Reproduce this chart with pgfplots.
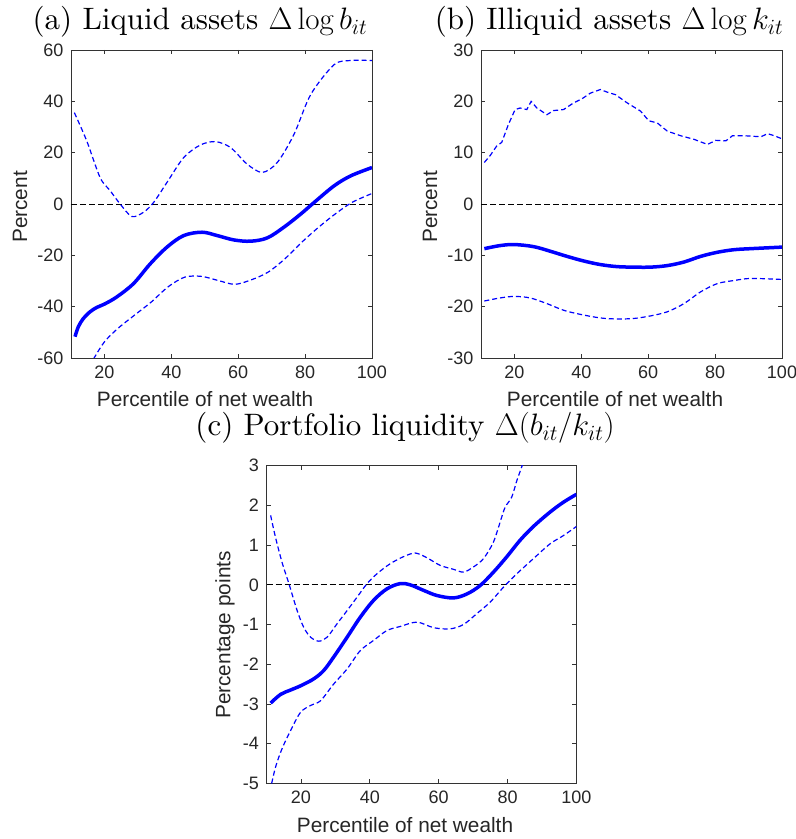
\RequirePackage{fix-cm}
\documentclass[border=0pt]{standalone}
\usepackage{fontspec}
\usepackage{pgfplots}
\pgfplotsset{compat=1.18}
\newfontfamily\arial{Liberation Sans}
\newfontfamily\lmten{lmroman10-regular}[Extension=.otf]

\pgfplotsset{
  panel/.style={
    scale only axis,
    anchor=south west,
    axis line style={black!80, line width=0.8pt},
    tick style={black!80, line width=0.8pt},
    tick align=inside,
    major tick length=4pt,
    xmin=10, xmax=100, xtick={20,40,...,100},
    ticklabel style={font=\arial\fontsize{18}{20}\selectfont, text=black!85},
    xticklabel style={yshift=-4pt},
    yticklabel style={xshift=-4pt},
    /pgf/number format/assume math mode=true,
  },
  est/.style={blue, line width=3.5pt, smooth, tension=0.55},
  band/.style={blue, line width=1.2pt, dash pattern=on 5pt off 3pt, smooth, tension=0.5},
  zero/.style={black, line width=0.9pt, dash pattern=on 6pt off 3pt},
}

\begin{document}
\begin{tikzpicture}
\path[use as bounding box] (0,0) rectangle (796pt,839pt);

% (a) liquid assets
\begin{axis}[panel, at={(71pt,481pt)}, width=301pt, height=308pt,
  ymin=-60, ymax=60, ytick={-60,-40,...,60}]
\addplot[zero] coordinates {(10,0) (100,0)};
\addplot[band] coordinates {
  (11,35.6) (14.7,24.6) (18.7,10.3) (21.7,5.2) (24.7,0) (28.2,-4.9)
  (31.7,-3.2) (34.7,0.6) (38.7,8.4) (43.7,18.1) (48.7,23) (53.2,24.3)
  (57.7,22) (62.7,15.5) (67.2,12.3) (71.7,16.2) (76.7,27.2) (81.7,42.7)
  (88.7,54.3) (93.7,55.9) (100,55.9)};
\addplot[band] coordinates {
  (11,-74) (14,-66) (16.8,-60.2) (20,-53.7) (24,-48.5) (29,-43.3) (34,-38.2)
  (39,-32.3) (44,-28.5) (49,-28.2) (54,-29.8) (59,-31.3) (64,-29.5)
  (69,-26.5) (74,-21.3) (79,-14.9) (84,-9.1) (89,-3.9) (94,0.6) (100,4.1)};
\addplot[est] coordinates {
  (11.2,-51.7) (12.2,-47.8) (13.7,-44.6) (15.7,-42) (17.7,-40.3) (20,-39)
  (23.7,-36.2) (28.7,-31) (33.7,-23.3) (38.7,-16.8) (43.7,-12.3)
  (49.2,-11) (53.7,-12.3) (58.7,-14) (63.7,-14.5) (68.7,-13.2) (73.7,-9)
  (78.7,-3.9) (82.7,0.6) (88.7,7.1) (93.7,11) (100,14.2)};
\end{axis}

% (b) illiquid assets
\begin{axis}[panel, at={(481pt,481pt)}, width=301pt, height=308pt,
  ymin=-30, ymax=30, ytick={-30,-20,...,30}]
\addplot[zero] coordinates {(10,0) (100,0)};
\addplot[band, sharp plot] coordinates {
  (11,8.1) (12.7,9.4) (14.7,11.3) (16.2,12) (18.2,15.5) (20.2,18.4)
  (21.7,18.7) (23.7,18.4) (25,20) (26.7,18.7) (29.7,17.4) (31.7,18.2)
  (34.7,18.4) (37.7,19.7) (40.2,20.5) (42.7,21.6) (45.7,22.3) (47.7,21.8)
  (50.2,21.3) (53.7,19.7) (57.7,18.1) (60.2,16.2) (62.7,15.8) (65.7,14.2)
  (69.7,13.3) (73.7,12.6) (77.7,11.6) (80.2,12.4) (83.2,12.3) (85.2,13.3)
  (88.7,13.3) (93.7,13.1) (95.7,13.7) (97.7,13.3) (100,12.7)};
\addplot[band] coordinates {
  (11,-18.9) (15.7,-18.3) (20,-18) (24.7,-18.3) (29.7,-19.4) (34.7,-20.7)
  (39.7,-21.5) (45.7,-22.2) (50.7,-22.4) (55.7,-22.3) (60.7,-21.8)
  (65.7,-21) (70.7,-19.4) (75.7,-17.1) (80.7,-15.5) (85.7,-14.9)
  (90.7,-14.5) (100,-14.7)};
\addplot[est] coordinates {
  (11,-8.7) (15.7,-8.1) (20,-7.9) (25.7,-8.3) (30.7,-9.2) (35.7,-10.2)
  (40.7,-11.1) (45.7,-11.8) (50.7,-12.2) (55.7,-12.3) (60.7,-12.3)
  (65.7,-12) (70.7,-11.3) (75.7,-10.2) (80.7,-9.4) (85.7,-8.9)
  (90.7,-8.7) (100,-8.4)};
\end{axis}

% (c) portfolio liquidity
\begin{axis}[panel, at={(266.5pt,55.7pt)}, width=310pt, height=317.6pt,
  ymin=-5, ymax=3, ytick={-5,-4,...,3}]
\addplot[zero] coordinates {(10,0) (100,0)};
\addplot[band] coordinates {
  (11.2,1.75) (12.6,1.2) (14.5,0.57) (16.5,0.03) (18.9,-0.65) (20.8,-1.07)
  (22.8,-1.32) (25.2,-1.42) (27.6,-1.32) (30.5,-0.98) (33.4,-0.65)
  (36.3,-0.31) (39.2,0.03) (42.1,0.28) (45.9,0.53) (49.8,0.71) (53.2,0.8)
  (56.6,0.68) (60.4,0.49) (64.3,0.39) (67.2,0.32) (70.1,0.45) (73,0.66)
  (75.9,1.08) (78.3,1.71) (79.3,1.96) (81.2,2.21) (82.7,2.63) (84.1,2.97)
  (85.1,3.23) (86,3.5)};
\addplot[band] coordinates {
  (11,-5.2) (12.6,-4.6) (14.5,-4.13) (17,-3.67) (19.9,-3.21) (22.8,-3.04)
  (25.7,-2.92) (29.5,-2.5) (33.4,-2.12) (37.2,-1.66) (41.1,-1.4)
  (45,-1.15) (48.8,-1.05) (53.7,-0.94) (58.5,-1.08) (63.3,-1.11)
  (67.2,-1) (71,-0.73) (74.9,-0.44) (78.8,-0.06) (82.7,0.28) (87.5,0.66)
  (92.3,1.03) (96.2,1.24) (100,1.47)};
\addplot[est] coordinates {
  (11.2,-2.98) (14.1,-2.76) (17,-2.65) (20,-2.54) (23.7,-2.37) (26.6,-2.16)
  (29.5,-1.82) (33.4,-1.32) (37.2,-0.82) (41.1,-0.39) (45,-0.1)
  (48.8,0.03) (51.7,0) (55.6,-0.14) (59.5,-0.27) (64.3,-0.33) (68.2,-0.23)
  (72,-0.02) (75.9,0.32) (79.8,0.71) (83.6,1.12) (87.5,1.47) (92.3,1.83)
  (96.2,2.08) (100,2.28)};
\end{axis}

% titles and axis labels
\begin{scope}[every node/.style={inner sep=0pt}]
\node[anchor=base, font=\lmten\fontsize{31}{36}\selectfont] at (200pt,809.5pt)
  {(a) Liquid assets $\Delta\log b_{it}$};
\node[anchor=base, font=\lmten\fontsize{31}{36}\selectfont] at (609pt,809.5pt)
  {(b) Illiquid assets $\Delta\log k_{it}$};
\node[anchor=base, font=\lmten\fontsize{31}{36}\selectfont] at (405pt,403pt)
  {(c) Portfolio liquidity $\Delta(b_{it}/k_{it})$};
\node[anchor=base, font=\arial\fontsize{20.8}{24}\selectfont, text=black!85] at (205pt,432pt)
  {Percentile of net wealth};
\node[anchor=base, font=\arial\fontsize{20.8}{24}\selectfont, text=black!85] at (615pt,432pt)
  {Percentile of net wealth};
\node[anchor=base, font=\arial\fontsize{20.8}{24}\selectfont, text=black!85] at (405pt,6pt)
  {Percentile of net wealth};
\node[rotate=90, font=\arial\fontsize{20.8}{24}\selectfont, text=black!85] at (20pt,632pt)
  {Percent};
\node[rotate=90, font=\arial\fontsize{20.8}{24}\selectfont, text=black!85] at (430pt,632pt)
  {Percent};
\node[rotate=90, font=\arial\fontsize{20.8}{24}\selectfont, text=black!85] at (225pt,204pt)
  {Percentage points};
\end{scope}
\end{tikzpicture}
\end{document}
